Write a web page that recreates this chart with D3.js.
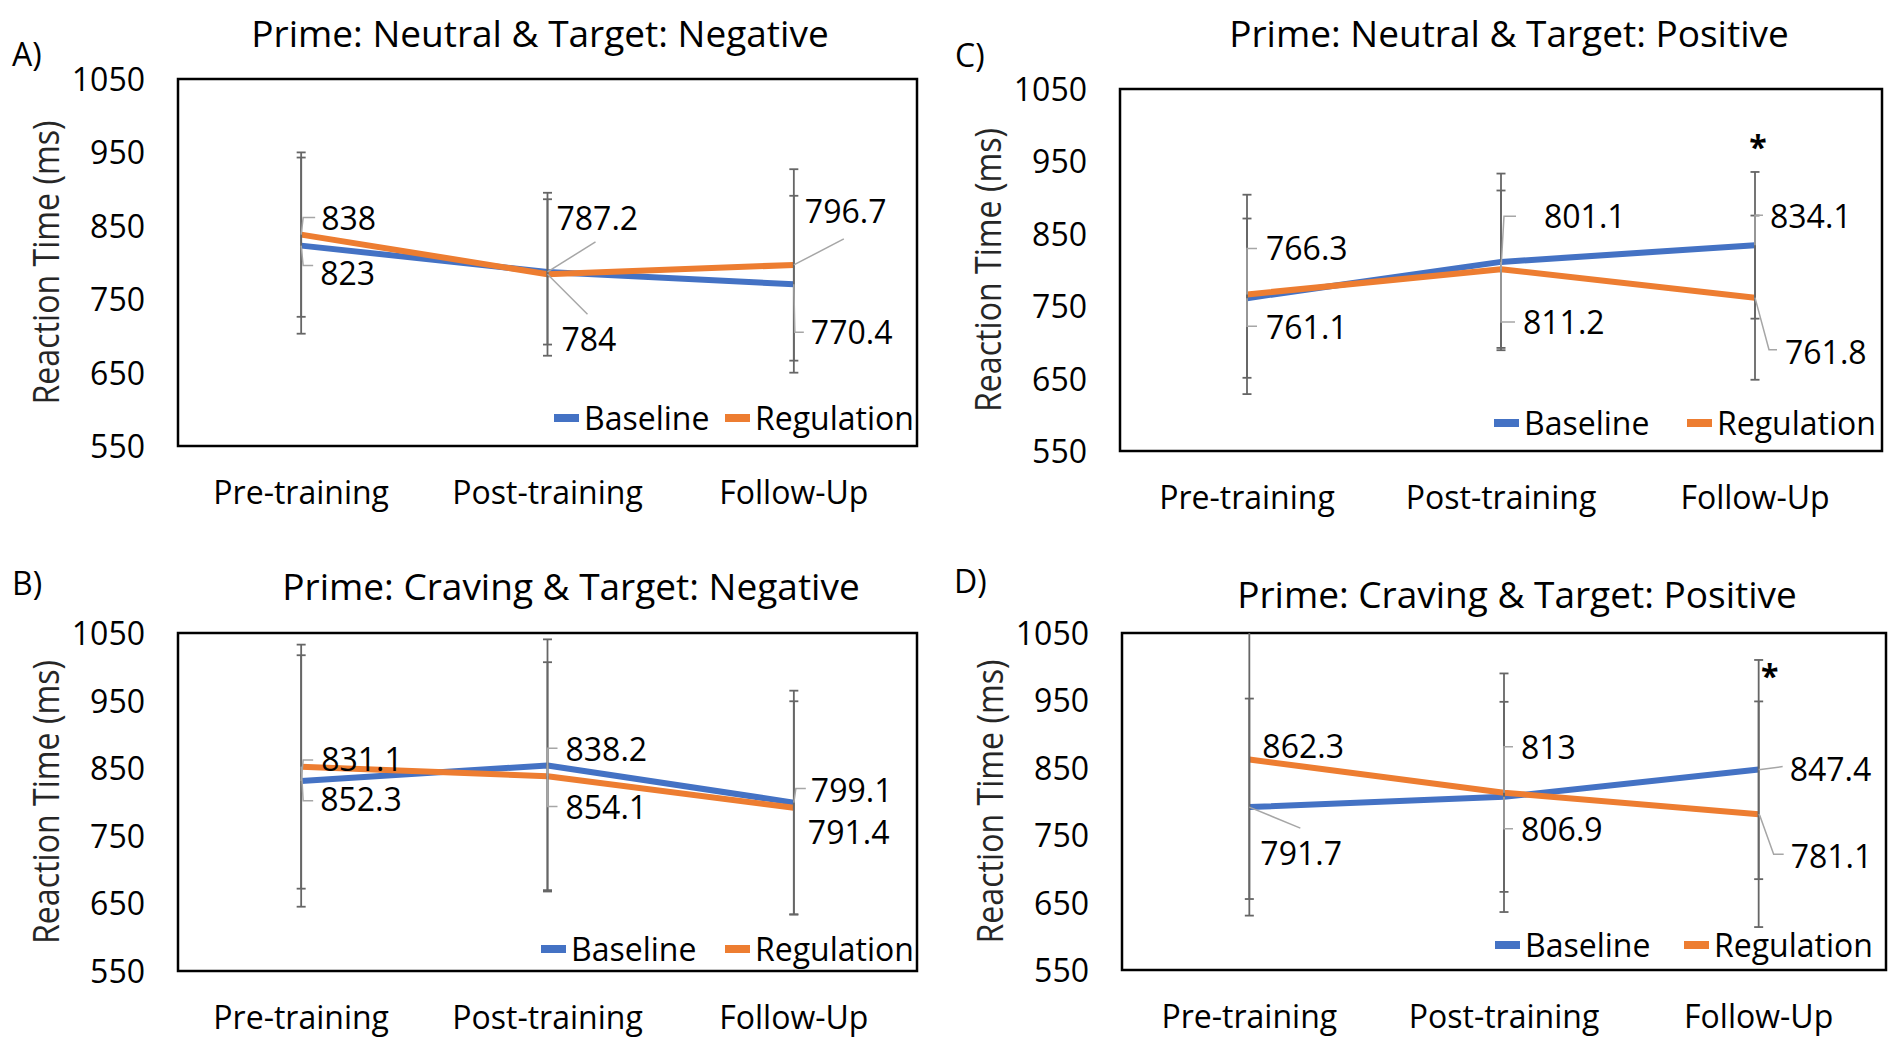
<!DOCTYPE html>
<html>
<head>
<meta charset="utf-8">
<script src="https://cdn.jsdelivr.net/npm/d3@7"></script>
<style>
  body { margin: 0; background: #fff; }
  text { font-family: "Open Sans", "DejaVu Sans", sans-serif; fill: #000; }
</style>
</head>
<body>
<div class="drawingboard"></div>
<script>
// categories, series and ticks
const categories = ["Pre-training", "Post-training", "Follow-Up"];
const seriesNames = ["Baseline", "Regulation"];
const yTicks = [550, 650, 750, 850, 950, 1050];

const titleA = "Prime: Neutral & Target: Negative";
const titleB = "Prime: Craving & Target: Negative";
const titleC = "Prime: Neutral & Target: Positive";
const titleD = "Prime: Craving & Target: Positive";

// mean reaction times (ms)
const baselineA = [823, 787.2, 770.4];
const regulationA = [838, 784, 796.7];
const baselineB = [831.1, 854.1, 799.1];
const regulationB = [852.3, 838.2, 791.4];
const baselineC = [761.1, 811.2, 834.1];
const regulationC = [766.3, 801.1, 761.8];
const baselineD = [791.7, 806.9, 847.4];
const regulationD = [862.3, 813, 781.1];

// error bar half-widths (ms)
const baselineErrA = [120, 99, 120.5];
const regulationErrA = [112, 111, 130.4];
const baselineErrB = [186, 186.5, 165.6];
const regulationErrB = [180.5, 168.6, 157.6];
const baselineErrC = [110, 122, 101.3];
const regulationErrC = [137.7, 108.7, 113.4];
const baselineErrD = [161, 141, 162.6];
const regulationErrD = [207, 177, 167.4];

// significance marks: [category index, value]
const starC = [2, 984];
const starD = [2, 1002];

var width = 1898;
var height = 1054;

var svg = d3.select(".drawingboard")
    .append("svg")
    .attr("width", width)
    .attr("height", height);

// label placement: [dx, dy] from the point to the label's left baseline, plus leader bends
const panels = [
    {
        letter: "A)", title: titleA, base: baselineA, reg: regulationA,
        baseErr: baselineErrA, regErr: regulationErrA,
        box: [178, 79, 917, 446], titleX: 540, titleY: 47, letterX: 12, letterY: 66,
        legendY: 418, legendX: [554, 725], star: null,
        baseLab: [[19, 39, [[2, 20], [12, 20]]], [9, -42, [[48, -30]]], [17, 60, [[1, 48], [10, 48]]]],
        regLab: [[20, -5, [[2, -17], [14, -17]]], [14, 77, [[40, 40]]], [11, -42, [[50, -26]]]]
    },
    {
        letter: "B)", title: titleB, base: baselineB, reg: regulationB,
        baseErr: baselineErrB, regErr: regulationErrB,
        box: [178, 633, 917, 971], titleX: 571, titleY: 600, letterX: 12, letterY: 595,
        legendY: 949, legendX: [541, 725], star: null,
        baseLab: [[20, -10, [[2, -21], [12, -21]]], [18, 54, [[0, 41], [10, 41]]], [17, -1, [[2, -14], [12, -14]]]],
        regLab: [[19, 44, [[2, 34], [12, 34]]], [18, -15, [[0, -28], [10, -28]]], [14, 36, null]]
    },
    {
        letter: "C)", title: titleC, base: baselineC, reg: regulationC,
        baseErr: baselineErrC, regErr: regulationErrC,
        box: [1120, 89, 1882, 451], titleX: 1509, titleY: 47, letterX: 955, letterY: 67,
        legendY: 423, legendX: [1494, 1687], star: starC,
        baseLab: [[19, 41, [[0, 28], [10, 28]]], [22, 72, [[0, 60], [14, 60]]], [15, -17, [[0, -30], [8, -30]]]],
        regLab: [[19, -34, [[0, -46], [10, -46]]], [43, -41, [[3, -53], [15, -53]]], [30, 66, [[14, 52], [22, 52]]]]
    },
    {
        letter: "D)", title: titleD, base: baselineD, reg: regulationD,
        baseErr: baselineErrD, regErr: regulationErrD,
        box: [1122, 633, 1886, 970], titleX: 1517, titleY: 608, letterX: 954, letterY: 593,
        legendY: 945, legendX: [1495, 1684], star: starD,
        baseLab: [[11, 58, [[51, 21]]], [17, 44, [[0, 32], [9, 32]]], [31, 11, [[2, 0], [24, -3]]]],
        regLab: [[13, -2, null], [17, -34, [[0, -46], [9, -46]]], [32, 54, [[1, 1], [15, 40], [25, 40]]]]
    }
];

const blue = "#4472C4";
const orange = "#ED7D31";

function drawPanel(p) {
    var x0 = p.box[0], y0 = p.box[1], x1 = p.box[2], y1 = p.box[3];
    var g = svg.append("g");

    var x = d3.scalePoint().domain(categories).range([x0, x1]).padding(0.5);
    var y = d3.scaleLinear().domain([550, 1050]).range([y1, y0]);

    g.append("text")
        .attr("x", p.letterX).attr("y", p.letterY)
        .style("font-size", "32px")
        .text(p.letter);

    g.append("text")
        .attr("x", p.titleX).attr("y", p.titleY)
        .attr("text-anchor", "middle")
        .style("font-size", "37px")
        .text(p.title);

    // y axis labels
    var yAxis = g.append("g")
        .attr("transform", "translate(" + x0 + ",0)")
        .call(d3.axisLeft(y).tickValues(yTicks).tickFormat(d3.format("d")).tickSize(0).tickPadding(33));
    yAxis.select(".domain").remove();
    yAxis.selectAll("text")
        .attr("dy", "0.36em")
        .style("font-family", "'Open Sans', sans-serif")
        .style("font-size", "32px")
        .style("fill", "#000");

    g.append("text")
        .attr("transform", "translate(" + (x0 - 132) + "," + ((y0 + y1) / 2) + ") rotate(-90)")
        .attr("text-anchor", "middle")
        .attr("dy", "0.36em")
        .attr("textLength", 284)
        .attr("lengthAdjust", "spacingAndGlyphs")
        .style("font-size", "36px")
        .style("fill", "#262626")
        .text("Reaction Time (ms)");

    // x labels
    g.selectAll(".xlab")
        .data(categories)
        .enter().append("text")
        .attr("class", "xlab")
        .attr("x", function (d) { return x(d); })
        .attr("y", y1 + 58)
        .attr("text-anchor", "middle")
        .style("font-size", "32px")
        .text(function (d) { return d; });

    // plot box
    g.append("rect")
        .attr("x", x0).attr("y", y0)
        .attr("width", x1 - x0).attr("height", y1 - y0)
        .style("fill", "none")
        .style("stroke", "#000")
        .style("stroke-width", 2.5);

    var line = d3.line()
        .x(function (d, i) { return x(categories[i]); })
        .y(function (d) { return y(d); });

    [[p.base, blue], [p.reg, orange]].forEach(function (s) {
        g.append("path")
            .datum(s[0])
            .attr("d", line)
            .style("fill", "none")
            .style("stroke", s[1])
            .style("stroke-width", 6)
            .style("stroke-linejoin", "round");
    });

    // error bars
    function clampY(v) { return y(Math.max(550, Math.min(1050, v))); }
    [[p.base, p.baseErr], [p.reg, p.regErr]].forEach(function (s) {
        s[0].forEach(function (v, i) {
            var cx = x(categories[i]);
            var lo = v - s[1][i], hi = v + s[1][i];
            g.append("line")
                .attr("x1", cx).attr("x2", cx)
                .attr("y1", clampY(lo)).attr("y2", clampY(hi))
                .style("stroke", "#666").style("stroke-width", 1.8);
            [lo, hi].forEach(function (e) {
                if (e > 1050 || e < 550) return;
                g.append("line")
                    .attr("x1", cx - 4.5).attr("x2", cx + 4.5)
                    .attr("y1", y(e)).attr("y2", y(e))
                    .style("stroke", "#666").style("stroke-width", 1.8);
            });
        });
    });

    // data labels with leader lines
    [[p.base, p.baseLab], [p.reg, p.regLab]].forEach(function (s) {
        s[0].forEach(function (v, i) {
            var px = x(categories[i]), py = y(v);
            var lab = s[1][i];
            if (lab[2]) {
                var pts = [[px, py]].concat(lab[2].map(function (o) { return [px + o[0], py + o[1]]; }));
                g.append("path")
                    .attr("d", d3.line()(pts))
                    .style("fill", "none")
                    .style("stroke", "#a6a6a6")
                    .style("stroke-width", 1.5);
            }
            g.append("text")
                .attr("x", px + lab[0])
                .attr("y", py + lab[1])
                .style("font-size", "32px")
                .text(v);
        });
    });

    if (p.star) {
        g.append("text")
            .attr("x", x(categories[p.star[0]]) + (p.star[1] > 990 ? 11 : 3))
            .attr("y", y(p.star[1]))
            .attr("text-anchor", "middle")
            .attr("dy", "0.7em")
            .style("font-size", "32px")
            .style("font-weight", "bold")
            .text("*");
    }

    // legend
    var colors = [blue, orange];
    seriesNames.forEach(function (name, i) {
        var lx = p.legendX[i];
        g.append("rect")
            .attr("x", lx).attr("y", p.legendY - 4)
            .attr("width", 25).attr("height", 8)
            .style("fill", colors[i]);
        g.append("text")
            .attr("x", lx + 30).attr("y", p.legendY)
            .attr("dy", "0.36em")
            .style("font-size", "32px")
            .text(name);
    });
}

panels.forEach(drawPanel);
</script>
</body>
</html>
